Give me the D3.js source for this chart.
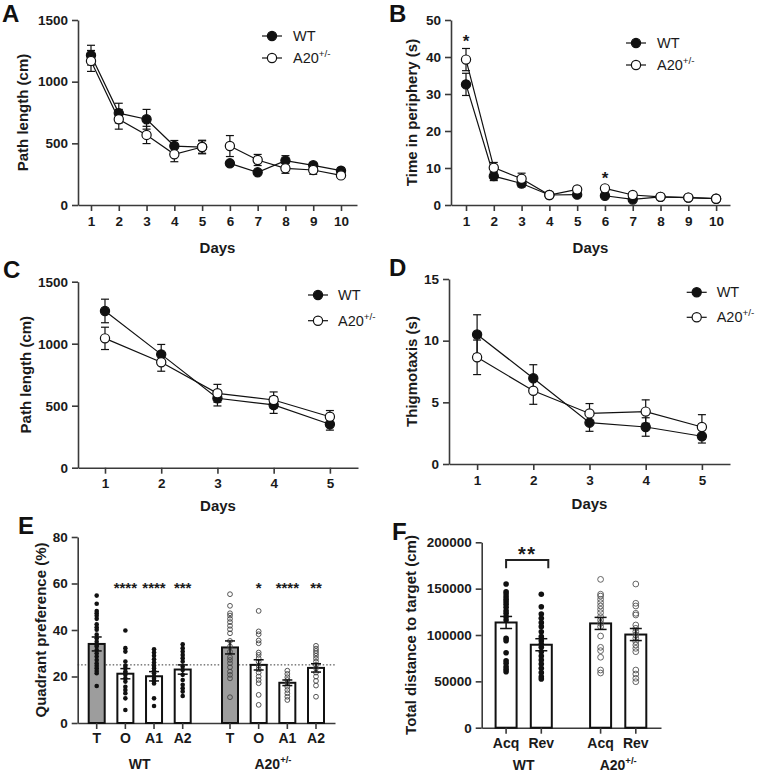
<!DOCTYPE html>
<html><head><meta charset="utf-8">
<script src="https://cdn.jsdelivr.net/npm/d3@7"></script>
<style>body{margin:0;background:#fff} svg{display:block}</style>
</head><body><svg id="chart" width="759" height="774"></svg>
<script>
// ---------------- DATA ----------------
const days10 = [1,2,3,4,5,6,7,8,9,10];
const days5 = [1,2,3,4,5];

// Panel A: path length (cm)
const pathA_WT      = [1215, 745, 695, 478, 470, 338, 265, 360, 322, 278];
const pathA_WT_sem  = [80, 80, 80, 45, 55, 20, 15, 40, 20, 25];
const pathA_A20     = [1168, 695, 568, 411, 470, 478, 365, 297, 284, 240];
const pathA_A20_sem = [85, 80, 70, 60, 50, 85, 45, 40, 35, 20];

// Panel B: time in periphery (s)
const periB_WT      = [32.6, 7.8, 5.8, 2.7, 2.8, 2.5, 1.5, 2.2, 2.0, 1.7];
const periB_WT_sem  = [3.0, 1.2, 0.9, 0.4, 0.4, 0.4, 0.3, 0.3, 0.3, 0.3];
const periB_A20     = [39.3, 10.1, 7.1, 2.7, 4.2, 4.5, 2.7, 2.2, 2.0, 1.7];
const periB_A20_sem = [3.0, 1.4, 1.5, 0.4, 0.6, 0.7, 0.4, 0.3, 0.3, 0.3];
const periB_starDays = [1, 6];

// Panel C: path length (cm)
const pathC_WT      = [1264, 914, 560, 506, 350];
const pathC_WT_sem  = [95, 80, 62, 68, 47];
const pathC_A20     = [1043, 850, 600, 546, 411];
const pathC_A20_sem = [90, 72, 72, 65, 50];

// Panel D: thigmotaxis (s)
const thigD_WT      = [10.5, 6.95, 3.35, 3.0, 2.25];
const thigD_WT_sem  = [1.6, 1.1, 0.7, 0.75, 0.55];
const thigD_A20     = [8.65, 5.94, 4.1, 4.25, 3.0];
const thigD_A20_sem = [1.4, 1.1, 0.8, 0.95, 1.0];

// Panel E: quadrant preference (%)
const quadrants = ["T", "O", "A1", "A2"];
const groupsE = ["WT", "A20"];
const quadE_WT_mean  = [34.0, 21.2, 20.1, 23.0];
const quadE_WT_sem   = [3.0, 2.2, 2.0, 2.0];
const quadE_A20_mean = [32.5, 25.0, 17.3, 23.7];
const quadE_A20_sem  = [2.8, 2.2, 1.2, 1.8];
const quadE_WT_T  = [54.8, 51.3, 48.2, 47.2, 46.1, 44.8, 42.5, 41.2, 40.1, 38, 36.5, 35, 33.5, 32.9, 31.4, 30, 28.6, 27.1, 25.7, 24.6, 23.6, 22.4, 21.4, 15.9];
const quadE_WT_O  = [39.8, 32.2, 30.7, 26.4, 24.6, 23.6, 22.1, 21.5, 20.7, 19.2, 17.8, 15.6, 14.2, 12.8, 10.6, 5.6];
const quadE_WT_A1 = [31.7, 30.3, 28.9, 27.4, 26, 24.6, 23.6, 22.5, 21.4, 20, 19, 18, 17, 10.6, 7.3];
const quadE_WT_A2 = [33.9, 32.2, 30.7, 29.3, 27.9, 26.4, 24.3, 22.8, 20.7, 18.5, 16.4, 14.9, 13.5, 11.6];
const quadE_A20_T  = [55.4, 50.4, 47.2, 46.2, 44.8, 43.4, 41.8, 40.3, 38.6, 35.3, 32.9, 30.7, 28.3, 27.1, 25.7, 24, 22.1, 20.7, 19.2, 11.1];
const quadE_A20_O  = [48.2, 39.4, 38.2, 35.5, 34.3, 30.3, 29.3, 27.9, 26.4, 24.6, 23.1, 21.7, 20, 18.5, 17.1, 12.1, 7.8];
const quadE_A20_A1 = [22.5, 21.1, 19.7, 18.5, 17.1, 15.6, 14.2, 12.8, 11.3, 9.9];
const quadE_A20_A2 = [33.2, 32, 31, 30, 28.9, 27.7, 26.4, 25, 23.6, 21.7, 20, 18.1, 16.1, 11.3];
const quadE_WT_stars  = ["", "****", "****", "***"];
const quadE_A20_stars = ["", "*", "****", "**"];
const quadE_chance = 25;

// Panel F: total distance to target (cm)
const phasesF = ["Acq", "Rev"];
const distF_WT_mean  = [113500, 89500];
const distF_WT_sem   = [6500, 6500];
const distF_A20_mean = [112500, 100500];
const distF_A20_sem  = [6500, 6500];
const distF_WT_Acq = [155000, 146700, 144200, 141300, 138500, 135900, 133100, 129900, 126200, 123400, 119800, 116200, 96400, 93900, 80900, 72300, 69500, 65800, 63000, 60400];
const distF_WT_Rev = [143900, 130500, 122600, 118000, 113300, 109000, 103500, 98200, 93900, 90300, 86700, 82000, 77300, 73000, 68700, 64100, 59400, 55000, 52500];
const distF_A20_Acq = [160000, 144000, 142000, 138500, 134900, 131300, 127700, 124100, 119800, 116200, 112600, 109000, 98900, 86700, 83100, 76000, 62200, 59000];
const distF_A20_Rev = [155000, 134200, 131300, 123400, 121600, 110800, 107200, 103600, 100000, 96400, 92800, 89200, 85600, 82000, 62200, 57900, 53300, 49600];
const distF_bracket = {from: "Acq", to: "Rev", level: 181000, drop: 172000, label: "**"};

// ---------------- DRAWING ----------------
const FONT = '"Liberation Sans", Arial, Helvetica, sans-serif';
const AX = "#3a3a3a";
const svg = d3.select("#chart");

function styleAxis(g) {
  g.select(".domain").attr("stroke", AX).attr("stroke-width", 1.6);
  g.selectAll(".tick line").attr("stroke", AX).attr("stroke-width", 1.6);
  g.selectAll(".tick text").attr("font-size", 13.5).attr("font-weight", "bold")
    .attr("fill", "#1a1a1a").attr("font-family", FONT);
}
function txt(g, x, y, s, o = {}) {
  return g.append("text").attr("x", x).attr("y", y).text(s)
    .attr("font-family", FONT).attr("font-size", o.size || 15)
    .attr("font-weight", o.weight || "bold").attr("fill", o.fill || "#1a1a1a")
    .attr("text-anchor", o.anchor || "middle");
}
function supLabel(g, x, y, base, sup, o = {}) {
  const t = txt(g, x, y, base, o);
  t.append("tspan").attr("font-size", (o.size || 15) * 0.68).attr("dy", -(o.size || 15) * 0.42).text(sup);
  return t;
}
function yTitle(g, x, yMid, s) {
  g.append("text").attr("transform", `translate(${x},${yMid}) rotate(-90)`)
    .attr("text-anchor", "middle").attr("font-family", FONT).attr("font-size", 15)
    .attr("font-weight", "bold").attr("fill", "#1a1a1a").text(s);
}
function panelLetter(x, y, s) {
  txt(svg, x, y, s, {size: 24, anchor: "start", fill: "#111"});
}
function errBar(g, x, yLo, yHi, cap, w) {
  g.append("line").attr("x1", x).attr("x2", x).attr("y1", yLo).attr("y2", yHi)
    .attr("stroke", "#111").attr("stroke-width", w);
  [yLo, yHi].forEach(yy => g.append("line").attr("x1", x - cap / 2).attr("x2", x + cap / 2)
    .attr("y1", yy).attr("y2", yy).attr("stroke", "#111").attr("stroke-width", w));
}

function linePanel(p) {
  const x = d3.scaleLinear().domain(p.xDomain).range(p.xRange);
  const y = d3.scaleLinear().domain(p.yDomain).range(p.yRange);
  const g = svg.append("g");
  g.append("g").attr("transform", `translate(0,${y(0)})`)
    .call(d3.axisBottom(x).tickValues(p.days).tickFormat(d3.format("d")).tickSize(6).tickPadding(5).tickSizeOuter(0))
    .call(styleAxis);
  g.append("g").attr("transform", `translate(${p.xRange[0]},0)`)
    .call(d3.axisLeft(y).tickValues(p.yTicks).tickFormat(d3.format("d")).tickSize(6).tickPadding(4).tickSizeOuter(0))
    .call(styleAxis);
  txt(g, (p.xRange[0] + p.xRange[1]) / 2, p.daysY, "Days");
  yTitle(g, p.titleX, (p.yRange[0] + p.yRange[1]) / 2, p.title);

  const series = [
    {vals: p.wt, sem: p.wtSem, filled: true},
    {vals: p.a20, sem: p.a20Sem, filled: false}
  ];
  const line = d3.line().x(d => x(d.day)).y(d => y(d.v));
  series.forEach(s => {
    const pts = p.days.map((d, i) => ({day: d, v: s.vals[i], e: s.sem[i]}));
    p.segments.forEach(([a, b]) => {
      g.append("path").datum(pts.slice(a, b)).attr("d", line)
        .attr("fill", "none").attr("stroke", "#111").attr("stroke-width", 1.2);
    });
    s.pts = pts;
  });
  series.forEach(s => {
    s.pts.forEach(d => errBar(g, x(d.day), y(d.v - d.e), y(d.v + d.e), 8, 1.2));
  });
  series.forEach(s => {
    g.selectAll(null).data(s.pts).join("circle")
      .attr("cx", d => x(d.day)).attr("cy", d => y(d.v)).attr("r", 4.6)
      .attr("fill", s.filled ? "#111" : "#fff").attr("stroke", "#111").attr("stroke-width", 1.2);
  });
  if (p.stars) {
    p.stars.forEach(day => {
      const i = p.days.indexOf(day);
      txt(g, x(day), y(p.a20[i] + p.a20Sem[i]) - 1.5, "*", {size: 17});
    });
  }
  // legend
  const L = p.legend;
  [[L.y1, true, "WT"], [L.y2, false, "A20"]].forEach(([ly, filled, name]) => {
    g.append("line").attr("x1", L.x - 10).attr("x2", L.x + 10).attr("y1", ly).attr("y2", ly)
      .attr("stroke", "#111").attr("stroke-width", 1.2);
    g.append("circle").attr("cx", L.x).attr("cy", ly).attr("r", 4.6)
      .attr("fill", filled ? "#111" : "#fff").attr("stroke", "#111").attr("stroke-width", 1.2);
    if (name === "WT") txt(g, L.tx, ly + 5, "WT", {size: 14.5, weight: "normal", anchor: "start"});
    else supLabel(g, L.tx, ly + 5, "A20", "+/-", {size: 14.5, weight: "normal", anchor: "start"});
  });
}

// A
linePanel({days: days10, xDomain: [0.532, 10.576], xRange: [78, 357], yDomain: [0, 1500], yRange: [205, 20],
  yTicks: [0, 500, 1000, 1500], wt: pathA_WT, wtSem: pathA_WT_sem, a20: pathA_A20, a20Sem: pathA_A20_sem,
  segments: [[0, 5], [5, 10]], daysY: 253, titleX: 28, title: "Path length (cm)",
  legend: {x: 272, y1: 36, y2: 58, tx: 293}});
// B
linePanel({days: days10, xDomain: [0.46, 10.5], xRange: [451, 730], yDomain: [0, 50], yRange: [205, 20],
  yTicks: [0, 10, 20, 30, 40, 50], wt: periB_WT, wtSem: periB_WT_sem, a20: periB_A20, a20Sem: periB_A20_sem,
  segments: [[0, 5], [5, 10]], daysY: 253, titleX: 417, title: "Time in periphery (s)", stars: periB_starDays,
  legend: {x: 636, y1: 43, y2: 65, tx: 657}});
// C
linePanel({days: days5, xDomain: [0.52, 5.5], xRange: [78, 358], yDomain: [0, 1500], yRange: [467.7, 281.7],
  yTicks: [0, 500, 1000, 1500], wt: pathC_WT, wtSem: pathC_WT_sem, a20: pathC_A20, a20Sem: pathC_A20_sem,
  segments: [[0, 5]], daysY: 511, titleX: 31, title: "Path length (cm)",
  legend: {x: 318, y1: 295, y2: 320.7, tx: 338}});
// D
linePanel({days: days5, xDomain: [0.5, 5.5], xRange: [449, 730], yDomain: [0, 15], yRange: [464, 279],
  yTicks: [0, 5, 10, 15], wt: thigD_WT, wtSem: thigD_WT_sem, a20: thigD_A20, a20Sem: thigD_A20_sem,
  segments: [[0, 5]], daysY: 509, titleX: 417, title: "Thigmotaxis (s)",
  legend: {x: 696.7, y1: 292.3, y2: 317.3, tx: 716.7}});

// E
(function () {
  const g = svg.append("g");
  const y = d3.scaleLinear().domain([0, 80]).range([723, 537]);
  const gx = d3.scalePoint().domain(groupsE).range([139.7, 273]);
  const ix = d3.scalePoint().domain(quadrants).range([-43, 43]);
  const xl = d3.scaleLinear().domain([0, 1]).range([77.7, 335]);
  g.append("g").attr("transform", `translate(0,${y(0)})`)
    .call(d3.axisBottom(xl).tickValues([]).tickSizeOuter(0)).call(styleAxis);
  g.append("g").attr("transform", `translate(77.7,0)`)
    .call(d3.axisLeft(y).tickValues([0, 20, 40, 60, 80]).tickSize(6).tickPadding(4).tickSizeOuter(0)).call(styleAxis);
  yTitle(g, 46, (537 + 723) / 2, "Quadrant preference (%)");
  g.append("line").attr("x1", 77.7).attr("x2", 335).attr("y1", y(quadE_chance)).attr("y2", y(quadE_chance))
    .attr("stroke", "#333").attr("stroke-width", 1).attr("stroke-dasharray", "1.5,2");
  const data = {
    WT: {mean: quadE_WT_mean, sem: quadE_WT_sem, pts: [quadE_WT_T, quadE_WT_O, quadE_WT_A1, quadE_WT_A2], stars: quadE_WT_stars, filled: true},
    A20: {mean: quadE_A20_mean, sem: quadE_A20_sem, pts: [quadE_A20_T, quadE_A20_O, quadE_A20_A1, quadE_A20_A2], stars: quadE_A20_stars, filled: false}
  };
  groupsE.forEach(gr => {
    const D = data[gr];
    quadrants.forEach((q, i) => {
      const cx = gx(gr) + ix(q);
      g.append("rect").attr("x", cx - 8).attr("width", 16).attr("y", y(D.mean[i])).attr("height", y(0) - y(D.mean[i]))
        .attr("fill", q === "T" ? "#9d9d9d" : "#fff").attr("stroke", "#111").attr("stroke-width", 2);
      g.selectAll(null).data(D.pts[i]).join("circle").attr("cx", cx).attr("cy", v => y(v))
        .attr("r", D.filled ? 2.3 : 2.4)
        .attr("fill", D.filled ? "#111" : "none").attr("stroke", D.filled ? "none" : "#444").attr("stroke-width", 0.9);
      errBar(g, cx, y(D.mean[i] - D.sem[i]), y(D.mean[i] + D.sem[i]), 10, 1.5);
      g.append("line").attr("x1", cx).attr("x2", cx).attr("y1", y(0)).attr("y2", y(0) + 6)
        .attr("stroke", AX).attr("stroke-width", 1.6);
      txt(g, cx, 743, q, {size: 14});
      if (D.stars[i]) txt(g, cx, y(60) + 9, D.stars[i], {size: 15});
    });
  });
  txt(g, gx("WT"), 769, "WT", {size: 14});
  supLabel(g, gx("A20"), 769, "A20", "+/-", {size: 14});
})();

// F
(function () {
  const g = svg.append("g");
  const y = d3.scaleLinear().domain([0, 200000]).range([727.7, 542.3]);
  const gx = d3.scalePoint().domain(groupsE).range([523.7, 618.2]);
  const ix = d3.scalePoint().domain(phasesF).range([-17.6, 17.6]);
  const xl = d3.scaleLinear().domain([0, 1]).range([481.7, 661]);
  g.append("g").attr("transform", `translate(0,${y(0)})`)
    .call(d3.axisBottom(xl).tickValues([]).tickSizeOuter(0)).call(styleAxis);
  g.append("g").attr("transform", `translate(481.7,0)`)
    .call(d3.axisLeft(y).tickValues([0, 50000, 100000, 150000, 200000]).tickFormat(d3.format("d"))
      .tickSize(6).tickPadding(4).tickSizeOuter(0)).call(styleAxis);
  yTitle(g, 416, (542.3 + 727.7) / 2, "Total distance to target (cm)");
  const data = {
    WT: {mean: distF_WT_mean, sem: distF_WT_sem, pts: [distF_WT_Acq, distF_WT_Rev], filled: true},
    A20: {mean: distF_A20_mean, sem: distF_A20_sem, pts: [distF_A20_Acq, distF_A20_Rev], filled: false}
  };
  groupsE.forEach(gr => {
    const D = data[gr];
    phasesF.forEach((ph, i) => {
      const cx = gx(gr) + ix(ph);
      g.append("rect").attr("x", cx - 10.5).attr("width", 21).attr("y", y(D.mean[i])).attr("height", y(0) - y(D.mean[i]))
        .attr("fill", "#fff").attr("stroke", "#111").attr("stroke-width", 2);
      g.selectAll(null).data(D.pts[i]).join("circle").attr("cx", cx).attr("cy", v => y(v))
        .attr("r", D.filled ? 2.8 : 2.9)
        .attr("fill", D.filled ? "#111" : "none").attr("stroke", D.filled ? "none" : "#555").attr("stroke-width", 0.9);
      errBar(g, cx, y(D.mean[i] - D.sem[i]), y(D.mean[i] + D.sem[i]), 12, 1.5);
      g.append("line").attr("x1", cx).attr("x2", cx).attr("y1", y(0)).attr("y2", y(0) + 6)
        .attr("stroke", AX).attr("stroke-width", 1.6);
      txt(g, cx, 748, ph, {size: 14});
    });
  });
  // significance bracket
  const b = distF_bracket;
  const x1 = gx("WT") + ix(b.from), x2 = gx("WT") + ix(b.to) + 7;
  g.append("path").attr("d", `M${x1},${y(b.drop)}V${y(b.level)}H${x2}V${y(b.drop)}`)
    .attr("fill", "none").attr("stroke", "#222").attr("stroke-width", 2);
  txt(g, (x1 + x2) / 2, y(b.level) + 1, b.label, {size: 20}).attr("letter-spacing", 1.5);
  txt(g, gx("WT"), 770, "WT", {size: 14});
  supLabel(g, gx("A20"), 770, "A20", "+/-", {size: 14});
})();

panelLetter(2, 22, "A");
panelLetter(389, 22, "B");
panelLetter(3, 278, "C");
panelLetter(389, 276, "D");
panelLetter(18, 534, "E");
panelLetter(392, 540, "F");
</script></body></html>
